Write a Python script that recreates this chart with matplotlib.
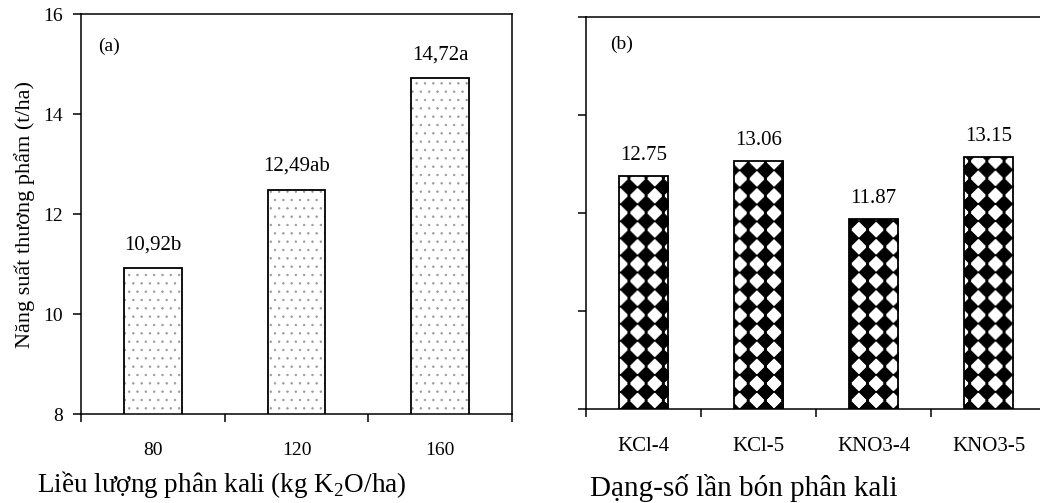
import matplotlib.pyplot as plt
import numpy as np

plt.rcParams['font.family'] = ['Liberation Serif', 'DejaVu Serif']
plt.rcParams['mathtext.fontset'] = 'custom'
plt.rcParams['mathtext.rm'] = 'Liberation Serif'

# (a) liều lượng phân kali
doses = ['80', '120', '160']
yield_dose = [10.92, 12.49, 14.72]
labels_dose = ['10,92b', '12,49ab', '14,72a']

# (b) dạng - số lần bón
forms = ['KCl-4', 'KCl-5', 'KNO3-4', 'KNO3-5']
yield_form = [12.75, 13.06, 11.87, 13.15]
labels_form = ['12.75', '13.06', '11.87', '13.15']

yticks = [8, 10, 12, 14, 16]

W, H = 1040, 503
fig = plt.figure(figsize=(W / 100, H / 100), dpi=100)
ax1 = fig.add_axes([0.0779, 0.1769, 0.4144, 0.7952])
ax2 = fig.add_axes([0.5635, 0.1869, 0.4423, 0.7793])


def style(ax, cats, show_y, xsize):
    n = len(cats)
    ax.set_xlim(-0.5, n - 0.5)
    ax.set_ylim(8, 16)
    ax.set_yticks(yticks)
    if not show_y:
        ax.set_yticklabels([])
    ax.set_xticks(np.arange(n + 1) - 0.5)
    ax.set_xticklabels([])
    ax.set_xticks(np.arange(n), minor=True)
    ax.set_xticklabels(cats, minor=True)
    ax.tick_params(axis='x', which='minor', length=0, pad=20, labelsize=xsize)
    ax.tick_params(axis='both', which='major', direction='out', length=6,
                   width=1.1, labelsize=14, pad=7)
    for s in ax.spines.values():
        s.set_linewidth(1.1)


# --- (a)
x1 = np.arange(len(doses))
b = ax1.bar(x1, yield_dose, 0.4, color='white', edgecolor='#999999',
            hatch='..', linewidth=0)
for p in b:
    if hasattr(p, 'set_hatch_linewidth'):
        p.set_hatch_linewidth(0.5)
ax1.bar(x1, yield_dose, 0.4, fill=False, edgecolor='black', linewidth=1.3)
for xi, v, t in zip(x1, yield_dose, labels_dose):
    ax1.annotate(t, (xi, v), xytext=(0, 10), textcoords='offset points',
                 ha='center', va='bottom', fontsize=15)
style(ax1, doses, True, 14)
ax1.set_ylabel('Năng suất thương phẩm (t/ha)', fontsize=16, labelpad=6)
ax1.text(0.04, 0.92, '(a)', transform=ax1.transAxes, fontsize=14, va='center')

# --- (b)
style(ax2, forms, False, 15)
x2 = np.arange(len(forms))
bars = ax2.bar(x2, yield_form, 0.43, fill=False, edgecolor='black',
               linewidth=1.3, zorder=3)

# ô bàn cờ xoay 45 độ, tính theo pixel của trục
pw, ph = int(0.4423 * W), int(0.7793 * H)
px, py = np.meshgrid(np.arange(pw) + 0.5, np.arange(ph) + 0.5)
d = 17.0
s = np.sin(np.pi * (px + py) / d) * np.sin(np.pi * (px - py) / d)
checker = (s < -0.04).astype(float)
x0, x1_ = ax2.get_xlim()
y0, y1 = ax2.get_ylim()
for p in bars:
    im = ax2.imshow(checker, cmap='gray', extent=(x0, x1_, y0, y1),
                    aspect='auto', interpolation='bilinear', zorder=2)
    im.set_clip_path(p)
ax2.set_xlim(x0, x1_)
ax2.set_ylim(y0, y1)

for xi, v, t in zip(x2, yield_form, labels_form):
    ax2.annotate(t, (xi, v), xytext=(0, 8), textcoords='offset points',
                 ha='center', va='bottom', fontsize=15)
ax2.text(0.052, 0.93, '(b)', transform=ax2.transAxes, fontsize=14, va='center')

fig.text(37 / W, 1 - 484 / H, 'Liều lượng phân kali (kg K$_\\mathregular{2}$O/ha)',
         fontsize=19.5, ha='left', va='center')
fig.text(590 / W, 1 - 488 / H, 'Dạng-số lần bón phân kali',
         fontsize=21, ha='left', va='center')

fig.savefig('out.png', dpi=100)
